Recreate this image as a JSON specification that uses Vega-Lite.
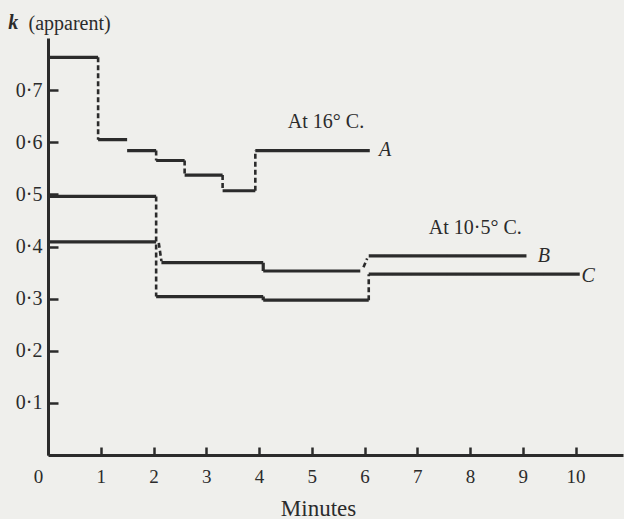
{
  "$schema": "https://vega.github.io/schema/vega-lite/v6.json",
  "autosize": "none",
  "width": 575,
  "height": 417,
  "padding": {"left": 48, "top": 38, "right": 1, "bottom": 64},
  "background": "#efefec",
  "config": {
    "view": {"stroke": null},
    "font": "Liberation Serif"
  },
  "datasets": {
    "segs": [
      {"curve": "A", "kind": "solid", "x": 0, "x2": 0.95, "y": 0.763, "y2": 0.763},
      {"curve": "A", "kind": "dashed", "x": 0.95, "x2": 0.95, "y": 0.763, "y2": 0.605},
      {"curve": "A", "kind": "solid", "x": 0.95, "x2": 1.5, "y": 0.605, "y2": 0.605},
      {"curve": "A", "kind": "solid", "x": 1.5, "x2": 2.05, "y": 0.584, "y2": 0.584},
      {"curve": "A", "kind": "dashed", "x": 2.05, "x2": 2.05, "y": 0.584, "y2": 0.565},
      {"curve": "A", "kind": "solid", "x": 2.05, "x2": 2.59, "y": 0.565, "y2": 0.565},
      {"curve": "A", "kind": "dashed", "x": 2.59, "x2": 2.59, "y": 0.565, "y2": 0.537},
      {"curve": "A", "kind": "solid", "x": 2.59, "x2": 3.31, "y": 0.537, "y2": 0.537},
      {"curve": "A", "kind": "dashed", "x": 3.31, "x2": 3.31, "y": 0.537, "y2": 0.507},
      {"curve": "A", "kind": "solid", "x": 3.31, "x2": 3.93, "y": 0.507, "y2": 0.507},
      {"curve": "A", "kind": "dashed", "x": 3.93, "x2": 3.93, "y": 0.507, "y2": 0.584},
      {"curve": "A", "kind": "solid", "x": 3.93, "x2": 6.1, "y": 0.584, "y2": 0.584},
      {"curve": "C", "kind": "solid", "x": 0, "x2": 2.05, "y": 0.496, "y2": 0.496},
      {"curve": "C", "kind": "dashed", "x": 2.05, "x2": 2.05, "y": 0.496, "y2": 0.304},
      {"curve": "C", "kind": "solid", "x": 2.05, "x2": 4.08, "y": 0.304, "y2": 0.304},
      {"curve": "C", "kind": "solid", "x": 4.08, "x2": 4.08, "y": 0.304, "y2": 0.297},
      {"curve": "C", "kind": "solid", "x": 4.08, "x2": 6.08, "y": 0.297, "y2": 0.297},
      {"curve": "C", "kind": "dashed", "x": 6.08, "x2": 6.08, "y": 0.297, "y2": 0.347},
      {"curve": "C", "kind": "solid", "x": 6.08, "x2": 10.08, "y": 0.347, "y2": 0.347},
      {"curve": "B", "kind": "solid", "x": 0, "x2": 2.05, "y": 0.409, "y2": 0.409},
      {"curve": "B", "kind": "dashed", "x": 2.1, "x2": 2.15, "y": 0.407, "y2": 0.372},
      {"curve": "B", "kind": "solid", "x": 2.15, "x2": 4.08, "y": 0.369, "y2": 0.369},
      {"curve": "B", "kind": "solid", "x": 4.08, "x2": 4.08, "y": 0.369, "y2": 0.353},
      {"curve": "B", "kind": "solid", "x": 4.08, "x2": 5.92, "y": 0.353, "y2": 0.353},
      {"curve": "B", "kind": "dashed", "x": 5.98, "x2": 6.05, "y": 0.36, "y2": 0.377},
      {"curve": "B", "kind": "solid", "x": 6.08, "x2": 9.07, "y": 0.382, "y2": 0.382}
    ],
    "notes": [
      {"text": "At 16° C.", "x": 5.27, "y": 0.639, "style": "normal"},
      {"text": "At 10·5° C.", "x": 8.1, "y": 0.436, "style": "normal"},
      {"text": "A", "x": 6.39, "y": 0.585, "style": "italic"},
      {"text": "B", "x": 9.4, "y": 0.382, "style": "italic"},
      {"text": "C", "x": 10.24, "y": 0.344, "style": "italic"},
      {"text": "k", "x": -0.66, "y": 0.829, "style": "bolditalic"}
    ]
  },
  "layer": [
    {
      "data": {"name": "segs"},
      "mark": {"type": "rule", "color": "#2b2b2b", "strokeCap": "butt", "clip": false},
      "encoding": {
        "x": {
          "field": "x", "type": "quantitative",
          "scale": {"domain": [0, 10.9], "nice": false, "zero": false},
          "axis": {
            "title": "Minutes",
            "values": [0, 1, 2, 3, 4, 5, 6, 7, 8, 9, 10],
            "domainColor": "#2b2b2b", "domainWidth": 3,
            "tickColor": "#2b2b2b", "tickWidth": 2.5, "tickSize": -8,
            "labelOffset": {"condition": {"test": "datum.value == 0", "value": -10}, "value": 0},
            "labelFont": "Liberation Serif", "labelFontSize": 19, "labelColor": "#2b2b2b",
            "labelPadding": 20, "labelFlush": false,
            "labelExpr": "format(datum.value, 'd')",
            "titleFont": "Liberation Serif", "titleFontSize": 23, "titleFontWeight": "normal",
            "titleColor": "#2b2b2b", "titleX": 270, "titleY": 53, "titleBaseline": "middle",
            "grid": false
          }
        },
        "x2": {"field": "x2"},
        "y": {
          "field": "y", "type": "quantitative",
          "scale": {"domain": [0, 0.8], "nice": false, "zero": false},
          "axis": {
            "title": "(apparent)",
            "values": [0.1, 0.2, 0.3, 0.4, 0.5, 0.6, 0.7],
            "domainColor": "#2b2b2b", "domainWidth": 3,
            "tickColor": "#2b2b2b", "tickWidth": 2.5, "tickSize": -10,
            "labelFont": "Liberation Serif", "labelFontSize": 20, "labelColor": "#2b2b2b",
            "labelPadding": 16,
            "labelExpr": "replace(format(datum.value, '.1f'), '.', '·')",
            "titleFont": "Liberation Serif", "titleFontSize": 20, "titleFontWeight": "normal",
            "titleColor": "#2b2b2b", "titleAngle": 0, "titleAlign": "left",
            "titleBaseline": "middle", "titleX": -20, "titleY": -15,
            "grid": false
          }
        },
        "y2": {"field": "y2"},
        "strokeDash": {
          "field": "kind", "type": "nominal",
          "scale": {"domain": ["solid", "dashed"], "range": [[1, 0], [5, 3]]},
          "legend": null
        },
        "strokeWidth": {
          "field": "kind", "type": "nominal",
          "scale": {"domain": ["solid", "dashed"], "range": [3.2, 2.6]},
          "legend": null
        }
      }
    },
    {
      "data": {"name": "notes"},
      "transform": [{"filter": "datum.style == 'normal'"}],
      "mark": {"type": "text", "font": "Liberation Serif", "fontSize": 20, "color": "#2b2b2b", "align": "center", "baseline": "middle", "clip": false},
      "encoding": {
        "x": {"field": "x", "type": "quantitative"},
        "y": {"field": "y", "type": "quantitative"},
        "text": {"field": "text"}
      }
    },
    {
      "data": {"name": "notes"},
      "transform": [{"filter": "datum.style == 'italic'"}],
      "mark": {"type": "text", "font": "Liberation Serif", "fontSize": 20, "fontStyle": "italic", "color": "#2b2b2b", "align": "center", "baseline": "middle", "clip": false},
      "encoding": {
        "x": {"field": "x", "type": "quantitative"},
        "y": {"field": "y", "type": "quantitative"},
        "text": {"field": "text"}
      }
    },
    {
      "data": {"name": "notes"},
      "transform": [{"filter": "datum.style == 'bolditalic'"}],
      "mark": {"type": "text", "font": "Liberation Serif", "fontSize": 20, "fontStyle": "italic", "fontWeight": "bold", "color": "#2b2b2b", "align": "center", "baseline": "middle", "clip": false},
      "encoding": {
        "x": {"field": "x", "type": "quantitative"},
        "y": {"field": "y", "type": "quantitative"},
        "text": {"field": "text"}
      }
    }
  ]
}
